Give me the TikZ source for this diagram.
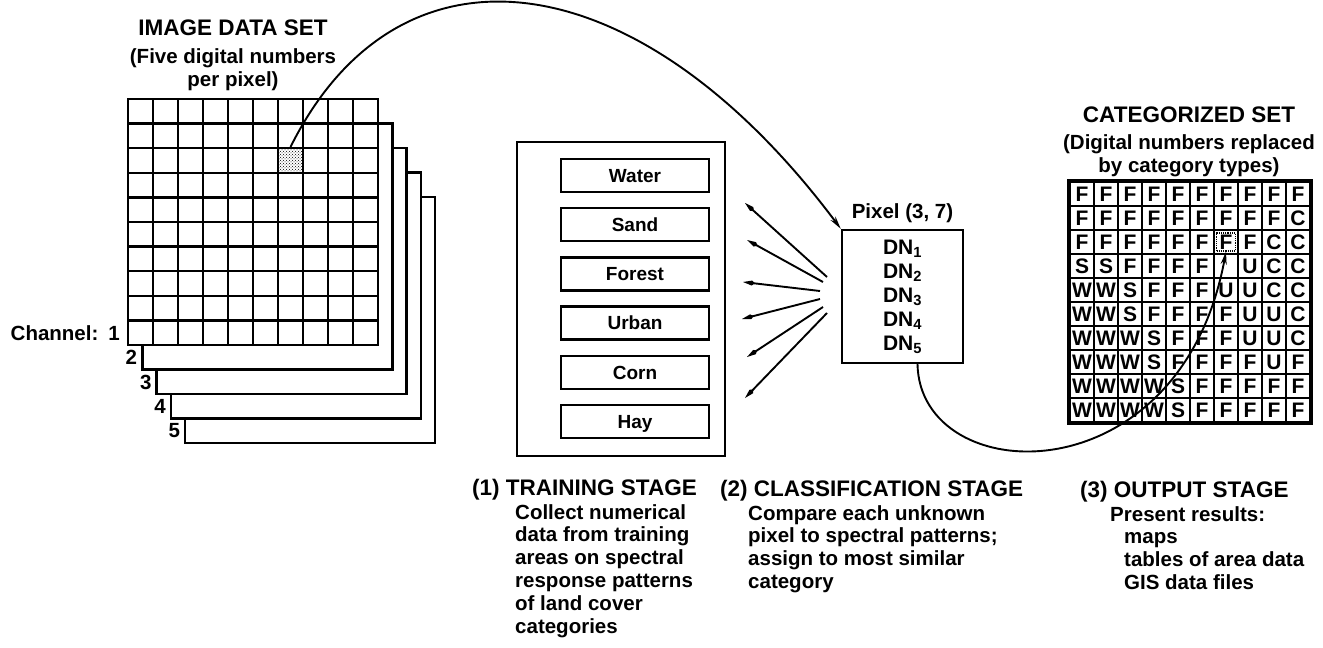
\documentclass[tikz,border=0pt]{standalone}
\usepackage{fontspec}
\setmainfont{Liberation Sans}
\usetikzlibrary{positioning, arrows.meta, patterns}

\begin{document}
\begin{tikzpicture}[x=1pt,y=-1pt,line width=2.4pt,>={Stealth[length=13pt,width=6pt]}]
\tikzstyle{txt}=[font=\fontsize{20.5}{22.8}\selectfont\bfseries,inner sep=0pt]
\tikzstyle{head}=[font=\fontsize{22.5}{25}\selectfont\bfseries,inner sep=0pt]
\tikzstyle{chanbox}=[draw,fill=white,minimum width=250pt,minimum height=246pt,inner sep=0pt]
\tikzstyle{pixcell}=[draw,fill=white,minimum width=25pt,minimum height=24.6pt,inner sep=0pt]
\tikzstyle{catbox}=[draw,font=\fontsize{19}{19}\selectfont\bfseries,minimum width=148pt,minimum height=33pt,text height=13.6pt,text depth=0pt]
\tikzstyle{catcell}=[draw,line width=2.6pt,font=\fontsize{21}{21}\selectfont\bfseries,minimum size=24pt,inner sep=0pt,text height=15pt,text depth=0pt]
\tikzstyle{link}=[->,line width=1.9pt]
\tikzstyle{fan}=[-{Kite[length=12pt,width=5pt]},line width=1.9pt]

\fill[white] (0,0) rectangle (1323,648);
\useasboundingbox (0,0) rectangle (1323,648);

% channels 5..2 behind the first one
\foreach \k in {5,4,3,2}{
  \node[chanbox] (ch\k) at ({253+14.3*(\k-1)},{222+24.5*(\k-1)}) {};
  \node[txt,anchor=east] (lab\k) at ({128+14.3*(\k-1)-4},{345+24.5*(\k-1)-12}) {\k};
}

% channel 1: 10 x 10 pixels
\foreach \r in {1,...,10}
  \foreach \c in {1,...,10}
    \node[pixcell] (p-\r-\c) at ({128+25*\c-12.5},{99+24.6*\r-12.3}) {};
\node[pixcell,pattern=crosshatch dots] (shade) at (p-3-7) {};
\node[txt,anchor=east] (chan) at (121,333) {Channel:\hspace{10pt}1};

\node[head] (imgtitle) at (233,28) {IMAGE DATA SET};
\node[txt,align=center,below=10pt of imgtitle] (imgnote) {(Five digital numbers\\per pixel)};

% training areas
\node[draw,minimum width=208pt,minimum height=314pt] (train) at (621,299) {};
\foreach \cat [count=\i from 0] in {Water,Sand,Forest,Urban,Corn,Hay}
  \node[catbox] (\cat) at (635,{175.5+49.2*\i}) {\cat};

% unknown pixel
\node[draw,font=\fontsize{21}{24}\selectfont\bfseries,align=left,minimum width=121pt,minimum height=133pt] (pix) at (902.5,296.5)
  {DN\textsubscript{1}\\DN\textsubscript{2}\\DN\textsubscript{3}\\DN\textsubscript{4}\\DN\textsubscript{5}};
\node[txt,above=5pt of pix] (pixlbl) {Pixel (3, 7)};

\foreach \tx/\ty/\hx/\hy [count=\i] in {827/277/745/203, 823/282/747/240, 820/291/743/282,
                                         820/299/742/319, 823/307/747/357, 827/313/745/398}{
  \coordinate (ray\i) at (\tx,\ty);
  \coordinate (tip\i) at (\hx,\hy);
  \draw[fan] (ray\i) -- (tip\i);
}

% categorized output
\node[head] (cattitle) at (1189,115) {CATEGORIZED SET};
\node[txt,align=center,below=9pt of cattitle] (catnote) {(Digital numbers replaced\\by category types)};

\foreach \row [count=\r] in {
  {F,F,F,F,F,F,F,F,F,F},
  {F,F,F,F,F,F,F,F,F,C},
  {F,F,F,F,F,F,F,F,C,C},
  {S,S,F,F,F,F,{},U,C,C},
  {W,W,S,F,F,F,U,U,C,C},
  {W,W,S,F,F,F,F,U,U,C},
  {W,W,W,S,F,F,F,U,U,C},
  {W,W,W,S,F,F,F,F,U,F},
  {W,W,W,W,S,F,F,F,F,F},
  {W,W,W,W,S,F,F,F,F,F}}
  \foreach \lbl [count=\c] in \row
    \node[catcell] (k-\r-\c) at ({1058+24*\c},{170+24*\r}) {\lbl};
\draw[line width=3pt] (k-1-1.north west) rectangle (k-10-10.south east);
\node[draw,densely dotted,line width=1.2pt,minimum width=19pt,minimum height=18pt,inner sep=0pt] (hit) at (k-3-7) {};

% pixel taken out, then put back with its class
\draw[link] (shade.north) .. controls (400,-73) and (640,-40) .. (pix.north west);
\draw[link] ([xshift=15pt]pix.south) .. controls (920,490) and (1180,500) .. (hit.south);

% stages
\node[head,anchor=west] (st1) at (471,490) {(1) TRAINING STAGE};
\node[txt,align=left,anchor=north west] (st1txt) at (514,503)
  {Collect numerical\\data from training\\areas on spectral\\response patterns\\of land cover\\categories};
\node[head,anchor=west] (st2) at (719,491) {(2) CLASSIFICATION STAGE};
\node[txt,align=left,anchor=north west] (st2txt) at (747,504)
  {Compare each unknown\\pixel to spectral patterns;\\assign to most similar\\category};
\node[head,anchor=west] (st3) at (1079,492) {(3) OUTPUT STAGE};
\node[txt,align=left,anchor=north west] (st3txt) at (1109,505)
  {Present results:\\\hspace*{14pt}maps\\\hspace*{14pt}tables of area data\\\hspace*{14pt}GIS data files};
\end{tikzpicture}
\end{document}
